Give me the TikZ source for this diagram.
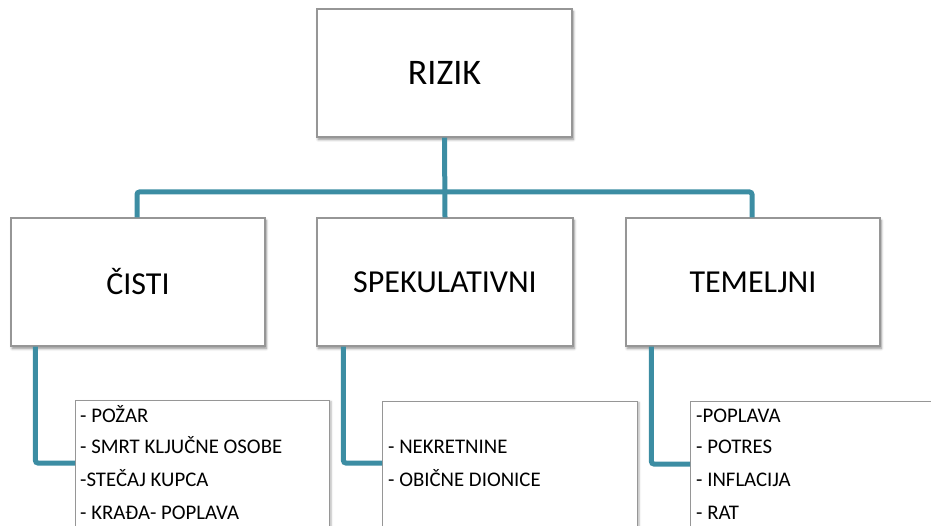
\documentclass[tikz,border=0pt]{standalone}
\usepackage{fontspec}
\setmainfont{Carlito}
\usetikzlibrary{shadows.blur}
\definecolor{linkteal}{RGB}{60,141,163}
\definecolor{framegray}{RGB}{150,150,150}
\tikzset{
  box/.style={draw=framegray, line width=1.2pt, fill=white, inner sep=0pt,
    blur shadow={shadow xshift=1.2pt, shadow yshift=-2.5pt, shadow blur steps=6,
      shadow opacity=45, shadow blur radius=2.5pt}},
  topbox/.style={box, minimum width=255pt, minimum height=128pt, font=\fontsize{32}{36}\selectfont},
  listbox/.style={draw=framegray, line width=1.2pt, fill=white, inner sep=0pt, anchor=north west,
    minimum height=160pt,
    blur shadow={shadow xshift=1.5pt, shadow yshift=-1pt, shadow blur steps=5,
      shadow opacity=30, shadow blur radius=2pt}},
  item/.style={anchor=base west, inner sep=0pt, font=\fontsize{20.8}{24}\selectfont},
  conn/.style={draw=linkteal, line width=5pt, rounded corners=2.5pt}
}
\begin{document}
\begin{tikzpicture}[x=1pt,y=-1pt]
  \useasboundingbox (0,0) rectangle (931,526);
  \clip (0,0) rectangle (931,526);

  % main category boxes
  \node[topbox, font=\fontsize{36}{40}\selectfont] (rizik) at (444.5,73) {RIZIK};
  \node[topbox, minimum width=254pt] (cisti) at (138,282) {ČISTI};
  \node[topbox, minimum width=256pt] (spek) at (445,282) {SPEKULATIVNI};
  \node[topbox, minimum width=254pt] (temelj) at (753,282) {TEMELJNI};

  % junction of the top-level branches
  \coordinate (bus) at (444.5,192);

  % example lists
  \node[listbox, minimum width=254pt] (lista) at (75,400) {};
  \node[listbox, minimum width=255pt] (listb) at (382,401) {};
  \node[listbox, minimum width=260pt] (listc) at (690,401) {};

  \node[item] (a1) at (80,422) {- POŽAR};
  \node[item] (a2) at (80,453) {- SMRT KLJUČNE OSOBE};
  \node[item] (a3) at (80,486) {-STEČAJ KUPCA};
  \node[item] (a4) at (80,519) {- KRAĐA- POPLAVA};

  \node[item] (b1) at (388,453) {- NEKRETNINE};
  \node[item] (b2) at (388,486) {- OBIČNE DIONICE};

  \node[item] (c1) at (696,422) {-POPLAVA};
  \node[item] (c2) at (696,453) {- POTRES};
  \node[item] (c3) at (696,486) {- INFLACIJA};
  \node[item] (c4) at (696,519) {- RAT};

  % connectors
  \draw[conn] (rizik.south) -- (spek.north);
  \draw[conn] (cisti.north -| 137,0) |- (bus) -| (temelj.north -| 752,0);
  \draw[conn] ([xshift=25pt]cisti.south west) |- ([yshift=-63pt]lista.north west);
  \draw[conn] ([xshift=27pt]spek.south west) |- ([yshift=-62pt]listb.north west);
  \draw[conn] ([xshift=26pt]temelj.south west) |- ([yshift=-63pt]listc.north west);
\end{tikzpicture}
\end{document}
